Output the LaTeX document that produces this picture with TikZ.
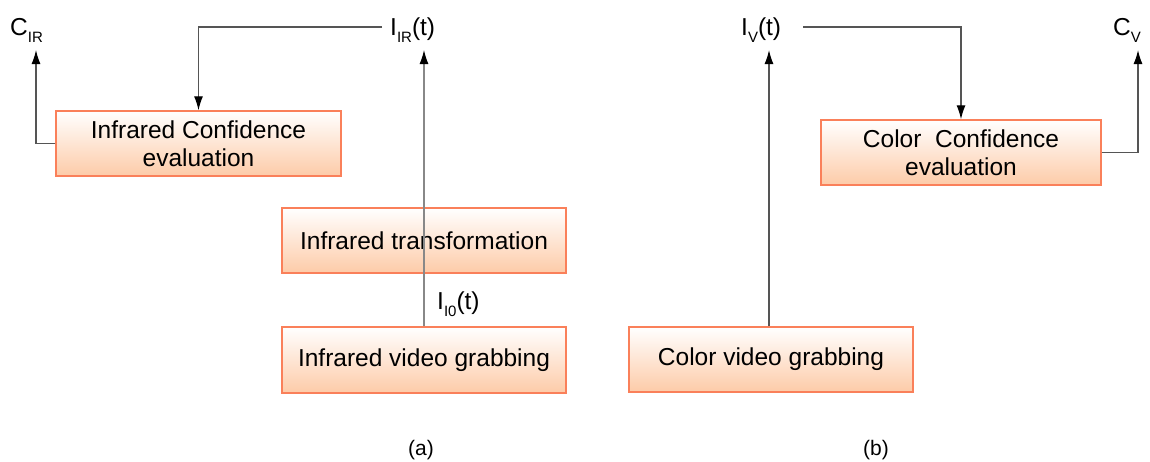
\documentclass[tikz,border=0pt]{standalone}
\usepackage{fontspec}
\setmainfont{Liberation Sans}
\usetikzlibrary{arrows.meta}
\definecolor{boxedge}{RGB}{250,128,90}
\definecolor{boxfill}{RGB}{253,203,168}
\definecolor{linegray}{RGB}{85,85,85}
\newcommand{\boxfont}{\fontsize{24.5}{28}\selectfont}
\newcommand{\labfont}{\fontsize{24.5}{28}\selectfont}
\newcommand{\subfont}{\fontsize{15}{15}\selectfont}
\newcommand{\sublab}[1]{\raisebox{-7pt}{\subfont #1}}
\begin{document}
\begin{tikzpicture}[x=1pt,y=-1pt,
  stagebox/.style={draw=boxedge, line width=1.4pt, top color=white, bottom color=boxfill,
    minimum width=284pt, minimum height=65pt, inner sep=0pt, align=center, font=\boxfont},
  conn/.style={draw=linegray, line width=1.3pt, -{Latex[length=14pt,width=9pt,black]}},
  lab/.style={inner sep=0pt, anchor=base west, font=\labfont}]
\useasboundingbox (0,0) rectangle (1150,461);
% boxes
\node[stagebox, minimum width=285pt] (confIR) at (198.5,143.5) {Infrared Confidence\\evaluation};
\node[stagebox] (transIR) at (424,240.5) {Infrared transformation};
\node[stagebox, minimum height=66pt] (grabIR) at (424,360) {Infrared video grabbing};
\node[stagebox, minimum width=280pt] (confV) at (961,152.5) {Color\ \ Confidence\\evaluation};
\node[stagebox] (grabV) at (771,359.5) {Color video grabbing};
% labels
\node[lab] (lCIR) at (10,35) {C\sublab{IR}};
\node[lab] (lIIR) at (390,35) {I\sublab{IR}(t)};
\node[lab] (lII0) at (437,309) {I\sublab{I0}(t)};
\node[lab] (lIV) at (741,35) {I\sublab{V}(t)};
\node[lab] (lCV) at (1113,35) {C\sublab{V}};
\node[font=\fontsize{21}{24}\selectfont, inner sep=0pt] (capa) at (421,450) {(a)};
\node[font=\fontsize{21}{24}\selectfont, inner sep=0pt] (capb) at (876,450) {(b)};
% coordinates
\coordinate (tipIR) at (424,50);
\coordinate (tipCIR) at (36,50);
\coordinate (startIIR) at (382,27);
\coordinate (tipV) at (769,50);
\coordinate (startIV) at (803,27);
\coordinate (tipCV) at (1138,50);
% connectors
\draw[conn, draw=linegray!70] (grabIR.north) -- (tipIR);
\draw[conn] (startIIR) -| (confIR.north);
\draw[conn] (confIR.west) -| (tipCIR);
\draw[conn] (grabV.north -| tipV) -- (tipV);
\draw[conn] (startIV) -| (confV.north);
\draw[conn] (confV.east) -| (tipCV);
\end{tikzpicture}
\end{document}
